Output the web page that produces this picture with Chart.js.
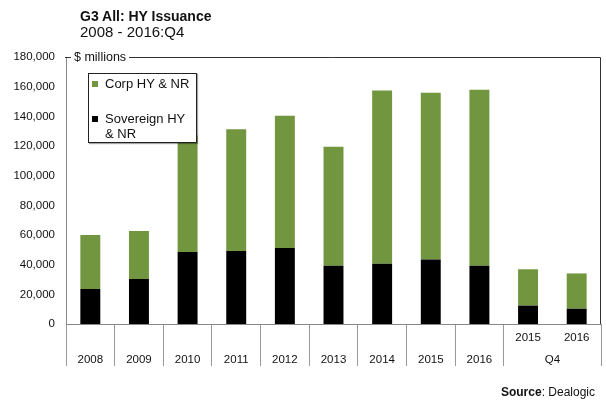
<!DOCTYPE html>
<html>
<head>
<meta charset="utf-8">
<script src="https://cdn.jsdelivr.net/npm/chart.js@4/dist/chart.umd.min.js"></script>
<style>
  html, body { margin: 0; padding: 0; background: #fff; }
  #wrap { position: relative; width: 606px; height: 401px; font-family: "Liberation Sans", Arial, sans-serif; color: #111; }
  #c { position: absolute; left: 0; top: 0; }
  .t { position: absolute; white-space: nowrap; }
  #title { left: 80px; top: 9px; font-size: 14px; line-height: 14px; font-weight: bold; }
  #subtitle { left: 80px; top: 24px; font-size: 15px; line-height: 15px; }
  #units { left: 71px; top: 50px; font-size: 12.5px; line-height: 14px; background: #fff; padding: 0 3px; }
  #source { right: 11px; top: 386px; font-size: 12px; line-height: 12px; }
  #legend { position: absolute; left: 88px; top: 73px; width: 109px; height: 70px; box-sizing: border-box;
            border: 1px solid #222; background: #fff; box-shadow: 1px 1px 1px rgba(0,0,0,0.35); }
  .li { position: absolute; left: 0; font-size: 13px; line-height: 15px; }
  .sw { position: absolute; left: 3px; width: 6px; height: 6px; }
  .lt { position: absolute; left: 16px; white-space: nowrap; }
</style>
</head>
<body>
<div id="wrap">
  <canvas id="c" width="606" height="401"></canvas>
  <div class="t" id="title">G3 All: HY Issuance</div>
  <div class="t" id="subtitle">2008 - 2016:Q4</div>
  <div class="t" id="units">$ millions</div>
  <div id="legend"></div>
  <div class="t" id="source"><b>Source</b>: Dealogic</div>
</div>
<script>
// ---- data ----
const years  = ['2008','2009','2010','2011','2012','2013','2014','2015','2016','2015','2016'];
const groups = ['', '', '', '', '', '', '', '', '', 'Q4', 'Q4'];
const sovereignHY = [23600, 30300, 48500, 49200, 51200, 39300, 40700, 43400, 39300, 12400, 10300];
const corpHY      = [36400, 32400, 78500, 82100, 89200, 80200, 116800, 112500, 118700, 24500, 23800];
const seriesNames = ['Corp HY & NR', 'Sovereign HY & NR'];
const legendLines = [['Corp HY & NR'], ['Sovereign HY', '& NR']];
const yTicks = { min: 0, max: 180000, step: 20000 };

const GREEN = '#72963F';
const BLACK = '#000000';
const FONT = '"Liberation Sans", Arial, sans-serif';

// two-line category labels: Q4 sub-categories sit on the upper line
const labels = years.map((y, i) => groups[i] ? [y, ''] : ['', y]);

// HTML legend
const legend = document.getElementById('legend');
const legendColors = [GREEN, BLACK];
const legendTops = [2, 37];
legendLines.forEach((lines, i) => {
  const item = document.createElement('div');
  item.className = 'li';
  item.style.top = legendTops[i] + 'px';
  const sw = document.createElement('div');
  sw.className = 'sw';
  sw.style.background = legendColors[i];
  sw.style.top = '5px';
  const tx = document.createElement('div');
  tx.className = 'lt';
  tx.innerHTML = lines.join('<br>');
  item.appendChild(sw);
  item.appendChild(tx);
  legend.appendChild(item);
});

const framePlugin = {
  id: 'frame',
  afterDraw(chart) {
    const { ctx, chartArea: a, scales } = chart;
    ctx.save();
    ctx.strokeStyle = '#333';
    ctx.lineWidth = 1;
    ctx.beginPath();
    ctx.moveTo(a.left - 1, a.top + 0.5);
    ctx.lineTo(a.right - 0.5, a.top + 0.5);
    ctx.lineTo(a.right - 0.5, a.bottom);
    ctx.stroke();
    // group labels (e.g. Q4) centred under their categories
    const xs = scales.x;
    const seen = {};
    groups.forEach((g, i) => {
      if (!g) return;
      (seen[g] = seen[g] || []).push(xs.getPixelForValue(i));
    });
    ctx.fillStyle = '#111';
    ctx.font = '11.5px ' + FONT;
    ctx.textAlign = 'center';
    ctx.textBaseline = 'middle';
    Object.keys(seen).forEach(g => {
      const p = seen[g];
      ctx.fillText(g, (p[0] + p[p.length - 1]) / 2, a.bottom + 36);
    });
    ctx.restore();
  }
};

new Chart(document.getElementById('c'), {
  type: 'bar',
  data: {
    labels: labels,
    datasets: [
      { label: seriesNames[1], data: sovereignHY, backgroundColor: BLACK, stack: 's',
        categoryPercentage: 1, barPercentage: 0.41 },
      { label: seriesNames[0], data: corpHY, backgroundColor: GREEN, stack: 's',
        categoryPercentage: 1, barPercentage: 0.41 }
    ]
  },
  options: {
    responsive: false,
    animation: false,
    devicePixelRatio: 1,
    layout: { padding: { left: 0, right: 5, top: 57, bottom: 0 } },
    plugins: { legend: { display: false }, tooltip: { enabled: false }, title: { display: false } },
    scales: {
      x: {
        stacked: true,
        offset: true,
        border: { display: true, color: '#888', width: 1 },
        grid: {
          display: true, offset: true, drawOnChartArea: false, drawTicks: true, tickLength: 42,
          color: ctx => (ctx.index !== undefined && ctx.index > 0 && groups[ctx.index] && groups[ctx.index] === groups[ctx.index - 1]) ? 'rgba(0,0,0,0)' : '#999',
          lineWidth: 1
        },
        ticks: {
          autoSkip: false, maxRotation: 0, minRotation: 0,
          padding: -39,
          color: '#111',
          font: { family: FONT, size: 11.5, lineHeight: 22 / 11.5 }
        },
        afterFit(scale) { scale.height = 77; }
      },
      y: {
        stacked: true,
        min: yTicks.min, max: yTicks.max,
        border: { display: true, color: '#888', width: 1 },
        grid: { display: false, drawTicks: false },
        ticks: {
          stepSize: yTicks.step,
          padding: 11,
          color: '#111',
          font: { family: FONT, size: 11.5 },
          callback: v => Number(v).toLocaleString('en-US')
        },
        afterFit(scale) { scale.width = 66; }
      }
    }
  },
  plugins: [framePlugin]
});
</script>
</body>
</html>
